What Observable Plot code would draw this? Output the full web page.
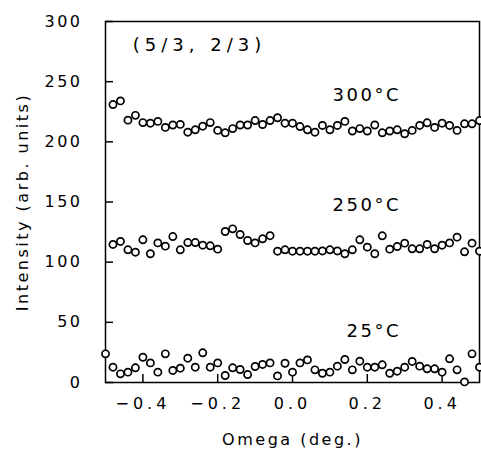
<!DOCTYPE html>
<html>
<head>
<meta charset="utf-8">
<script src="https://cdn.jsdelivr.net/npm/d3@7"></script>
<script src="https://cdn.jsdelivr.net/npm/@observablehq/plot@0.6"></script>
<style>
  html, body { margin: 0; padding: 0; background: #fff; }
  #chart svg { display: block; }
  g[aria-label="x-axis tick label"] text { letter-spacing: 4px; }
</style>
</head>
<body>
<div id="chart"></div>
<script>
// Omega grid (deg.)
const omega = [-0.50, -0.48, -0.46, -0.44, -0.42, -0.40, -0.38, -0.36, -0.34, -0.32, -0.30,
  -0.28, -0.26, -0.24, -0.22, -0.20, -0.18, -0.16, -0.14, -0.12, -0.10,
  -0.08, -0.06, -0.04, -0.02, 0.00, 0.02, 0.04, 0.06, 0.08, 0.10,
  0.12, 0.14, 0.16, 0.18, 0.20, 0.22, 0.24, 0.26, 0.28, 0.30,
  0.32, 0.34, 0.36, 0.38, 0.40, 0.42, 0.44, 0.46, 0.48, 0.50];

// 300°C series (omega -0.48 .. 0.50)
const i300 = [231, 234, 218, 222, 216, 215.5, 217, 212, 214, 214.5, 208, 210, 213, 216, 209.5,
  207.5, 211, 214, 214, 217.7, 214.4, 217.7, 220, 215.5, 215.5, 212.7, 210, 208, 213.6, 210,
  213.6, 217, 209, 211, 209, 214, 207.5, 209, 210, 206.7, 209.5, 213.6, 215.8, 212, 215.5,
  213.6, 209.5, 215, 215, 217.7];

// 250°C series (omega -0.48 .. 0.50)
const i250 = [114.7, 117.2, 110.3, 108.3, 118.6, 107, 116, 113.3, 121.3, 110.3, 116.3, 116.3,
  114.1, 113.6, 110.8, 125.5, 127.7, 123, 118, 116, 119.4, 122, 109.1, 110.3, 109.1, 109.1,
  109.1, 109.1, 109.3, 110.3, 109.3, 107, 110.3, 118.6, 112.5, 107, 121.9, 110.8, 113, 115.8,
  111.1, 111.1, 114.7, 111.1, 114.1, 116, 120.8, 108.6, 115.8, 109.1];

// 25°C series (omega -0.50 .. 0.50)
const i25 = [23.8, 12.7, 7.2, 8.6, 12.2, 21, 16.3, 8.6, 23.8, 10, 11.9, 20.2, 12.7, 24.7, 12.7,
  16.3, 5.8, 12.2, 10.8, 6.6, 13.3, 15, 16.3, 5.5, 16, 8.6, 16.3, 18.8, 10.5, 7.7, 8.6, 13.6,
  19.1, 10.5, 17.7, 12.7, 12.7, 14.7, 7.7, 9.4, 12.7, 17.5, 13.6, 11.4, 11.4, 8.6, 19.7, 10.5,
  0.5, 23.8, 12.7];

const xTicks = [-0.4, -0.2, 0.0, 0.2, 0.4];
const yTicks = [0, 50, 100, 150, 200, 250, 300];

const tempLabels = ["300°C", "250°C", "25°C"];
const tempLabelY = [238.5, 147, 42.4];
const tempLabelX = [0.29, 0.29, 0.29];
const coordLabel = "(5/3, 2/3)";

// Build table
const points = [];
omega.slice(1).forEach((o, i) => points.push({omega: o, intensity: i300[i], series: "300"}));
omega.slice(1).forEach((o, i) => points.push({omega: o, intensity: i250[i], series: "250"}));
omega.forEach((o, i) => points.push({omega: o, intensity: i25[i], series: "25"}));

const temps = tempLabels.map((t, i) => ({text: t, x: tempLabelX[i], y: tempLabelY[i]}));

const fmt = d3.format(".1f");

const W = 481, H = 450, ML = 105, MR = 2, MT = 21, MB = 68;
const frameW = W - ML - MR, frameH = H - MT - MB, TICK = 8;

const chart = Plot.plot({
  width: W,
  height: H,
  marginLeft: ML,
  marginRight: MR,
  marginTop: MT,
  marginBottom: MB,
  style: {fontFamily: "DejaVu Sans", fontSize: "16px", color: "#000", background: "#fff", letterSpacing: "2.5px"},
  x: {domain: [-0.5, 0.5]},
  y: {domain: [0, 300]},
  marks: [
    Plot.frame({stroke: "#000", strokeWidth: 1.5}),
    // inward ticks
    Plot.tickX(xTicks, {x: d => d, stroke: "#000", strokeWidth: 1.5, insetTop: frameH - TICK}),
    Plot.tickY(yTicks, {y: d => d, stroke: "#000", strokeWidth: 1.5, insetRight: frameW - TICK}),
    Plot.axisX({ticks: xTicks, tickFormat: fmt, tickSize: 0, tickPadding: 15, label: null, fontSize: 16}),
    Plot.axisY({ticks: yTicks, tickSize: 0, tickPadding: 23, label: null, fontSize: 16}),
    Plot.text(["Omega (deg.)"], {frameAnchor: "bottom", dy: 57, fontSize: 16, lineAnchor: "middle", textAnchor: "middle"}),
    Plot.text(["Intensity (arb. units)"], {frameAnchor: "left", dx: -83, rotate: -90, fontSize: 16, lineAnchor: "middle", textAnchor: "middle"}),
    Plot.text([coordLabel], {x: () => -0.427, y: () => 280, text: d => d, textAnchor: "start", fontSize: 18}),
    Plot.text(temps, {x: "x", y: "y", text: "text", textAnchor: "end", fontSize: 18}),
    Plot.dot(points, {x: "omega", y: "intensity", r: 3.6, stroke: "#000", strokeWidth: 1.7, fill: "#fff"})
  ]
});
d3.select(chart).selectAll("text").filter(function() { return this.textContent === coordLabel; })
  .style("letter-spacing", "5px");
document.getElementById("chart").appendChild(chart);
</script>
</body>
</html>
